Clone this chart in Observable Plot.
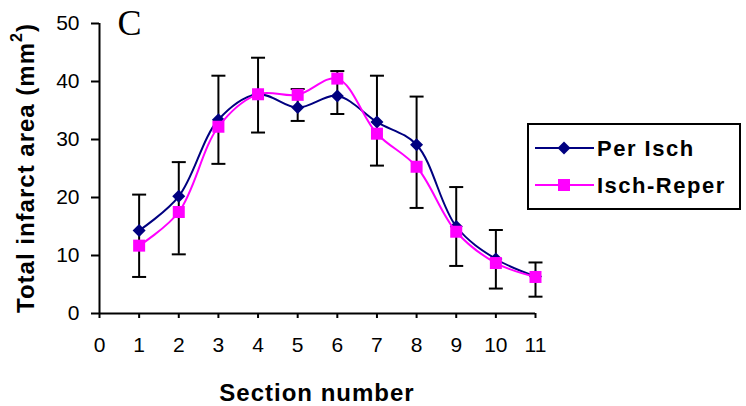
<!DOCTYPE html>
<html>
<head>
<meta charset="utf-8">
<script src="https://cdn.jsdelivr.net/npm/d3@7"></script>
<script src="https://cdn.jsdelivr.net/npm/@observablehq/plot@0.6"></script>
<style>
  html, body { margin: 0; padding: 0; background: white; }
  #chart { width: 746px; height: 406px; }
</style>
</head>
<body>
<div id="chart"></div>
<script>
// ---- data ----
const sections = [1, 2, 3, 4, 5, 6, 7, 8, 9, 10, 11];
const perIsch   = [14.3, 20.2, 33.4, 37.8, 35.5, 37.5, 33.0, 29.1, 15.0, 9.4, 6.4];
const ischReper = [11.7, 17.5, 32.2, 37.8, 37.7, 40.5, 31.0, 25.3, 14.1, 8.7, 6.3];
const errHigh   = [20.5, 26.1, 41.0, 44.1, 38.7, 41.8, 41.0, 37.4, 21.8, 14.4, 8.8];
const errLow    = [6.3, 10.2, 25.8, 31.2, 33.2, 34.4, 25.5, 18.2, 8.2, 4.3, 2.9];
const xTicks = [0, 1, 2, 3, 4, 5, 6, 7, 8, 9, 10, 11];
const yTicks = [0, 10, 20, 30, 40, 50];
const seriesNames = ["Per Isch", "Isch-Reper"];
const seriesColors = ["#000080", "#FF00FF"];
const panelLabel = "C";
const xTitle = "Section number";
const yTitle = "Total infarct area (mm";
const yTitleSup = "2";

// ---- derived tables ----
const perRows = sections.map((s, i) => ({section: s, value: perIsch[i]}));
const ischRows = sections.map((s, i) => ({section: s, value: ischReper[i]}));
const errRows = sections.map((s, i) => ({section: s, low: errLow[i], high: errHigh[i]}));
const capRows = errRows.flatMap(d => [{section: d.section, value: d.low}, {section: d.section, value: d.high}]);

// ---- symbols ----
const hline = {draw(ctx) { ctx.moveTo(-7, 0); ctx.lineTo(7, 0); }};
const diamond = {draw(ctx) { const r = 6.5; ctx.moveTo(0, -r); ctx.lineTo(r, 0); ctx.lineTo(0, r); ctx.lineTo(-r, 0); ctx.closePath(); }};
const square = {draw(ctx) { ctx.rect(-6, -6, 12, 12); }};

const chart = Plot.plot({
  width: 746,
  height: 406,
  marginLeft: 99,
  marginRight: 211,
  marginTop: 23,
  marginBottom: 93,
  style: {fontFamily: "Liberation Sans, Arial, sans-serif", fontSize: "21px", color: "black", background: "white"},
  x: {domain: [0, 11]},
  y: {domain: [0, 50]},
  marks: [
    Plot.ruleX(errRows, {x: "section", y1: "low", y2: "high", stroke: "black", strokeWidth: 2}),
    Plot.dot(capRows, {x: "section", y: "value", symbol: hline, stroke: "black", strokeWidth: 2, fill: "none"}),
    Plot.line(perRows, {x: "section", y: "value", stroke: seriesColors[0], strokeWidth: 2, curve: "catmull-rom"}),
    Plot.dot(perRows, {x: "section", y: "value", symbol: diamond, fill: seriesColors[0], stroke: "none"}),
    Plot.line(ischRows, {x: "section", y: "value", stroke: seriesColors[1], strokeWidth: 2, curve: "catmull-rom"}),
    Plot.dot(ischRows, {x: "section", y: "value", symbol: square, fill: seriesColors[1], stroke: "none"}),
    Plot.ruleY([0], {stroke: "black", strokeWidth: 2}),
    Plot.ruleX([0], {stroke: "black", strokeWidth: 2}),
    Plot.axisX({ticks: xTicks, tickSize: 5, tickPadding: 19, tickFormat: d => String(d), label: null, stroke: "black", strokeWidth: 2, fontSize: 21}),
    Plot.axisY({ticks: yTicks, tickSize: 8, tickPadding: 12, tickFormat: d => String(d), label: null, stroke: "black", strokeWidth: 2, fontSize: 21}),
    Plot.text([panelLabel], {frameAnchor: "top-left", dx: 18, dy: -14, text: d => d, fontFamily: "Liberation Serif, Times New Roman, serif", fontSize: 36, textAnchor: "start", lineAnchor: "top", fill: "black"})
  ]
});

document.getElementById("chart").appendChild(chart);

// ---- axis titles and legend ----
const svg = d3.select(chart);

const yt = svg.append("text")
  .attr("transform", "translate(25,168) rotate(-90)")
  .attr("text-anchor", "middle")
  .attr("dominant-baseline", "central")
  .attr("font-family", "Liberation Sans, Arial, sans-serif")
  .attr("font-weight", "bold")
  .attr("font-size", 24)
  .attr("letter-spacing", 1)
  .attr("fill", "black");
yt.append("tspan").text(yTitle);
yt.append("tspan").attr("font-size", 16).attr("dy", -9).text(yTitleSup);
yt.append("tspan").attr("dy", 9).text(")");

svg.append("text")
  .attr("x", 317).attr("y", 392)
  .attr("text-anchor", "middle")
  .attr("dominant-baseline", "central")
  .attr("font-family", "Liberation Sans, Arial, sans-serif")
  .attr("font-weight", "bold")
  .attr("font-size", 24)
  .attr("letter-spacing", 1)
  .attr("fill", "black")
  .text(xTitle);

const lg = svg.append("g");
lg.append("rect").attr("x", 528).attr("y", 124).attr("width", 212).attr("height", 85)
  .attr("fill", "white").attr("stroke", "black").attr("stroke-width", 2);
const rowsY = [148, 185];
const syms = [diamond, square];
seriesNames.forEach((name, i) => {
  const y = rowsY[i];
  lg.append("line").attr("x1", 535).attr("x2", 594).attr("y1", y).attr("y2", y)
    .attr("stroke", seriesColors[i]).attr("stroke-width", 2);
  lg.append("path").attr("transform", `translate(564,${y})`)
    .attr("d", d3.symbol(syms[i])())
    .attr("fill", seriesColors[i]);
  lg.append("text").attr("x", 597).attr("y", y)
    .attr("text-anchor", "start")
    .attr("dominant-baseline", "central")
    .attr("font-family", "Liberation Sans, Arial, sans-serif")
    .attr("font-weight", "bold")
    .attr("font-size", 22)
    .attr("letter-spacing", 1.5)
    .attr("fill", "black")
    .text(name);
});
</script>
</body>
</html>
